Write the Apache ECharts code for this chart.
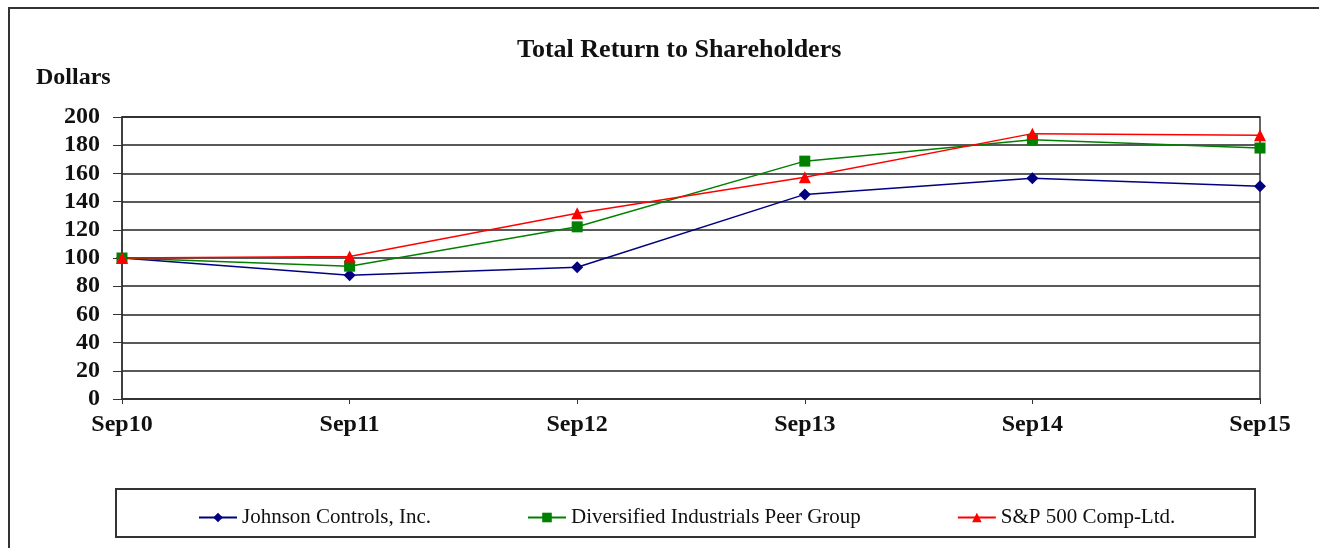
<!DOCTYPE html>
<html>
<head>
<meta charset="utf-8">
<script src="https://cdn.jsdelivr.net/npm/echarts@6/dist/echarts.min.js"></script>
<style>
    html, body { margin: 0; padding: 0; background: #fff; }
    #chart { width: 1319px; height: 548px; }
</style>
</head>
<body>
<div id="chart"></div>
<script>
    const years = ['Sep10', 'Sep11', 'Sep12', 'Sep13', 'Sep14', 'Sep15'];
    const johnson = [100, 87.7, 93.4, 145.1, 156.6, 150.9];
    const peerGroup = [100, 94.2, 122.1, 168.7, 183.8, 178.0];
    const sp500 = [100, 101.1, 131.7, 157.2, 188.2, 187.0];

    const serif = '"Liberation Serif", "DejaVu Serif", serif';
    const chart = echarts.init(document.getElementById('chart'));

    const option = {
        animation: false,
        backgroundColor: '#fff',
        title: {
            text: 'Total Return to Shareholders',
            left: 512,
            top: 32,
            textStyle: { fontFamily: serif, fontSize: 26, fontWeight: 'bold', color: '#111' }
        },
        graphic: [
            {
                type: 'rect',
                shape: { x: 9, y: 8, width: 1400, height: 700 },
                style: { fill: 'none', stroke: '#333', lineWidth: 2 },
                z: -1
            },
            {
                type: 'rect',
                shape: { x: 116, y: 489, width: 1139, height: 48 },
                style: { fill: 'none', stroke: '#333', lineWidth: 2 }
            },
            {
                type: 'text',
                left: 36,
                top: 66,
                style: { text: 'Dollars', font: 'bold 24px ' + serif, fill: '#111' }
            }
        ],
        legend: {
            left: 193,
            top: 502,
            itemGap: 96,
            itemWidth: 38,
            itemHeight: 12,
            textStyle: { fontFamily: serif, fontSize: 21, color: '#111' },
            data: ['Johnson Controls, Inc.', 'Diversified Industrials Peer Group', 'S&P 500 Comp-Ltd.']
        },
        grid: {
            left: 122,
            right: 59,
            top: 117,
            bottom: 149,
            show: true,
            borderColor: '#333',
            borderWidth: 1.5
        },
        xAxis: {
            type: 'category',
            data: years,
            boundaryGap: false,
            axisLine: { lineStyle: { color: '#333', width: 2 } },
            axisTick: { show: true, length: 5, lineStyle: { color: '#333' } },
            axisLabel: { margin: 14, fontFamily: serif, fontSize: 24, fontWeight: 'bold', color: '#111' },
            splitLine: { show: false }
        },
        yAxis: {
            type: 'value',
            min: 0,
            max: 200,
            interval: 20,
            axisLine: { show: true, lineStyle: { color: '#333', width: 1.5 } },
            axisTick: { show: true, length: 9, lineStyle: { color: '#333' } },
            axisLabel: { margin: 22, fontFamily: serif, fontSize: 24, fontWeight: 'bold', color: '#111' },
            splitLine: { lineStyle: { color: '#222', width: 1.5 } }
        },
        series: [
            {
                name: 'Johnson Controls, Inc.',
                type: 'line',
                data: johnson,
                symbol: 'diamond',
                symbolSize: 12,
                color: '#000080',
                lineStyle: { width: 1.5 }
            },
            {
                name: 'Diversified Industrials Peer Group',
                type: 'line',
                data: peerGroup,
                symbol: 'rect',
                symbolSize: 11,
                color: '#008000',
                lineStyle: { width: 1.5 }
            },
            {
                name: 'S&P 500 Comp-Ltd.',
                type: 'line',
                data: sp500,
                symbol: 'triangle',
                symbolSize: 12,
                color: '#ff0000',
                lineStyle: { width: 1.5 }
            }
        ]
    };
    chart.setOption(option);
</script>
</body>
</html>
